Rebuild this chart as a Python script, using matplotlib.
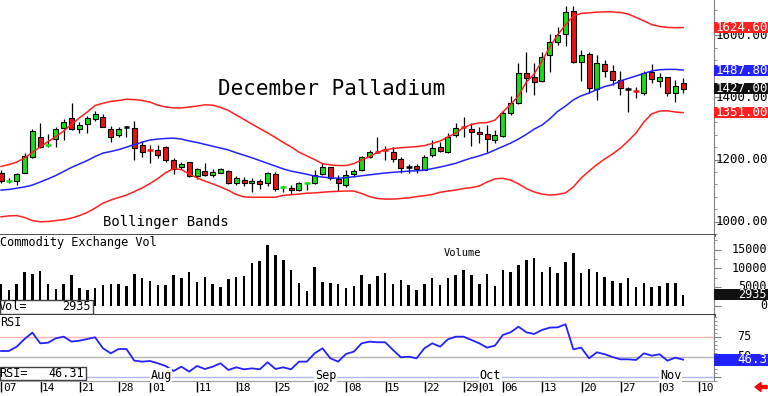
import numpy as np
import pandas as pd
import matplotlib
matplotlib.use('Agg')
import matplotlib.pyplot as plt
import matplotlib.transforms as mtransforms
from matplotlib.patches import Rectangle, FancyArrow
from matplotlib.ticker import MultipleLocator, FixedLocator

# trading days shown (Jul 3 .. Nov 5 2014)
dates = pd.bdate_range('2014-07-03', '2014-11-05').drop(pd.to_datetime(['2014-07-04', '2014-09-01']))

opens = [1158, 1131, 1132, 1158, 1209, 1272, 1246, 1265, 1303, 1333,
         1297, 1313, 1330, 1338, 1298, 1279, 1306, 1301, 1247, 1231,
         1231, 1240, 1199, 1175, 1191, 1147, 1163, 1150, 1158, 1164,
         1126, 1134, 1124, 1132, 1124, 1153, 1112, 1110, 1102, 1125,
         1124, 1154, 1175, 1137, 1118, 1154, 1167, 1207, 1226, 1233,
         1225, 1201, 1176, 1179, 1167, 1215, 1239, 1225, 1279, 1306,
         1299, 1288, 1282, 1263, 1276, 1349, 1381, 1479, 1467, 1453,
         1536, 1579, 1603, 1679, 1515, 1539, 1426, 1506, 1485, 1456,
         1426, 1423, 1413, 1483, 1454, 1465, 1415, 1445]
highs = [1166, 1141, 1158, 1222, 1297, 1319, 1281, 1306, 1330, 1381,
         1322, 1340, 1357, 1347, 1308, 1306, 1308, 1325, 1261, 1247,
         1247, 1244, 1204, 1193, 1193, 1172, 1188, 1169, 1172, 1167,
         1148, 1145, 1140, 1137, 1161, 1160, 1115, 1118, 1129, 1129,
         1167, 1190, 1177, 1150, 1166, 1169, 1212, 1231, 1274, 1244,
         1239, 1209, 1186, 1186, 1215, 1263, 1257, 1284, 1317, 1338,
         1317, 1306, 1311, 1295, 1356, 1405, 1510, 1547, 1510, 1547,
         1603, 1627, 1694, 1694, 1552, 1547, 1536, 1520, 1504, 1486,
         1434, 1432, 1484, 1507, 1477, 1465, 1456, 1461]
lows = [1125, 1125, 1118, 1156, 1204, 1236, 1240, 1240, 1263, 1295,
        1285, 1287, 1325, 1304, 1257, 1274, 1274, 1199, 1209, 1190,
        1204, 1193, 1154, 1169, 1145, 1137, 1147, 1145, 1156, 1121,
        1118, 1115, 1097, 1106, 1115, 1099, 1097, 1088, 1099, 1102,
        1121, 1150, 1134, 1100, 1111, 1145, 1164, 1204, 1220, 1199,
        1193, 1158, 1158, 1158, 1166, 1209, 1225, 1221, 1274, 1274,
        1244, 1252, 1225, 1254, 1274, 1343, 1379, 1418, 1408, 1450,
        1483, 1568, 1565, 1510, 1453, 1413, 1392, 1467, 1440, 1408,
        1354, 1397, 1408, 1445, 1432, 1405, 1386, 1415]
closes = [1132, 1133, 1153, 1212, 1293, 1241, 1248, 1297, 1322, 1297,
          1312, 1333, 1347, 1306, 1272, 1298, 1306, 1236, 1225, 1229,
          1215, 1199, 1170, 1186, 1147, 1169, 1150, 1159, 1169, 1126,
          1140, 1124, 1131, 1122, 1156, 1104, 1114, 1102, 1126, 1127,
          1150, 1175, 1140, 1124, 1150, 1163, 1207, 1225, 1223, 1230,
          1201, 1172, 1176, 1169, 1209, 1236, 1229, 1274, 1301, 1302,
          1288, 1281, 1266, 1279, 1349, 1381, 1479, 1461, 1450, 1531,
          1579, 1600, 1675, 1513, 1536, 1429, 1510, 1485, 1456, 1429,
          1426, 1420, 1477, 1458, 1465, 1413, 1437, 1427]

bb_upper = [1178, 1184, 1192, 1205, 1223, 1241, 1258, 1274, 1292, 1314,
            1334, 1353, 1374, 1381, 1387, 1390, 1394, 1393, 1390, 1385,
            1375, 1369, 1366, 1366, 1369, 1372, 1376, 1375, 1368, 1358,
            1343, 1329, 1314, 1300, 1286, 1271, 1255, 1241, 1224, 1212,
            1200, 1187, 1183, 1181, 1181, 1187, 1199, 1209, 1224, 1231,
            1236, 1238, 1240, 1242, 1245, 1252, 1260, 1273, 1285, 1303,
            1313, 1318, 1319, 1327, 1353, 1377, 1405, 1449, 1475, 1517,
            1562, 1601, 1633, 1662, 1670, 1672, 1674, 1675, 1675, 1673,
            1668, 1657, 1646, 1634, 1628, 1625, 1624, 1624.6]
bb_mid = [1102, 1104, 1108, 1112, 1118, 1128, 1138, 1149, 1162, 1175,
          1186, 1197, 1210, 1221, 1226, 1232, 1240, 1248, 1256, 1263,
          1266, 1268, 1269, 1266, 1260, 1255, 1249, 1243, 1237, 1231,
          1222, 1214, 1206, 1197, 1188, 1179, 1170, 1163, 1158, 1153,
          1147, 1144, 1141, 1140, 1142, 1145, 1148, 1151, 1154, 1157,
          1159, 1161, 1163, 1164, 1166, 1171, 1176, 1182, 1188, 1197,
          1205, 1212, 1220, 1231, 1242, 1253, 1266, 1281, 1298, 1311,
          1331, 1355, 1372, 1392, 1405, 1414, 1425, 1435, 1441, 1453,
          1461, 1469, 1477, 1485, 1489, 1490, 1490, 1487.8]
bb_lower = [1016, 1019, 1020, 1014, 1004, 1000, 1001, 1004, 1007, 1012,
            1020, 1030, 1044, 1060, 1070, 1078, 1086, 1097, 1109, 1123,
            1139, 1158, 1171, 1168, 1154, 1141, 1131, 1122, 1112, 1101,
            1088, 1080, 1079, 1079, 1079, 1079, 1085, 1087, 1089, 1092,
            1093, 1095, 1097, 1098, 1099, 1099, 1091, 1081, 1075, 1073,
            1073, 1075, 1077, 1081, 1084, 1088, 1095, 1099, 1102, 1107,
            1110, 1115, 1128, 1138, 1140, 1134, 1122, 1107, 1096, 1089,
            1086, 1088, 1093, 1112, 1141, 1163, 1184, 1202, 1218, 1237,
            1260, 1286, 1321, 1347, 1356, 1357, 1353, 1351]

volume = [5790, 4190, 5710, 9075, 8460, 9260, 5710, 4380, 5710, 8110,
          4640, 4190, 4800, 5520, 5790, 5790, 5260, 8460, 7310, 6670,
          5520, 5520, 8190, 7470, 9075, 6240, 7580, 5710, 4990, 7050,
          7740, 7930, 11320, 11930, 16200, 13530, 12200, 9610, 5980, 3920,
          10250, 6330, 6060, 5710, 4640, 5340, 8190, 5710, 8010, 8810,
          5790, 6860, 5440, 4190, 5790, 7310, 5520, 7470, 8190, 9530,
          8190, 5790, 8460, 5260, 9530, 9075, 10860, 12200, 12650, 8910,
          10330, 8650, 11740, 13980, 8810, 9800, 8910, 7660, 6670, 5980,
          7470, 5070, 5980, 4910, 5180, 5980, 5980, 2935]

rsi = [57.1, 57.1, 62.5, 72.1, 80.0, 66.7, 67.5, 73.0, 75.0, 68.8,
       70.0, 72.1, 74.2, 60.5, 54.2, 59.6, 59.6, 45.0, 43.8, 44.6,
       41.7, 38.4, 32.1, 37.5, 31.3, 38.4, 34.6, 37.5, 41.7, 33.4,
       36.7, 34.2, 35.4, 34.2, 43.0, 34.6, 36.7, 34.2, 43.8, 43.8,
       54.2, 60.5, 48.0, 43.8, 53.4, 56.3, 66.7, 68.8, 68.0, 68.0,
       58.4, 49.2, 50.0, 48.0, 60.5, 66.7, 62.5, 71.7, 75.0, 75.0,
       70.9, 66.7, 61.3, 63.8, 77.1, 80.5, 87.5, 80.5, 78.4, 83.4,
       86.3, 86.7, 90.5, 59.2, 61.3, 48.0, 55.5, 53.0, 49.6, 46.7,
       46.7, 45.9, 54.2, 51.3, 53.0, 45.0, 48.8, 46.31]

tick_dates = ['2014-07-07', '2014-07-14', '2014-07-21', '2014-07-28', '2014-08-01',
              '2014-08-11', '2014-08-18', '2014-08-25', '2014-09-02', '2014-09-08',
              '2014-09-15', '2014-09-22', '2014-09-29', '2014-10-01', '2014-10-06',
              '2014-10-13', '2014-10-20', '2014-10-27', '2014-11-03', '2014-11-10']
month_dates = ['2014-08-01', '2014-09-02', '2014-10-01', '2014-11-03']
month_names = ['Aug', 'Sep', 'Oct', 'Nov']

W, H = 768, 396
MONO = 'DejaVu Sans Mono'
GREEN = '#14e014'
RED = '#e81414'
LRED = '#ff2020'
BLUE = '#2222ff'


def box(x0, y0, x1, y1):
    return [x0 / W, 1 - y1 / H, (x1 - x0) / W, (y1 - y0) / H]


def day_pos(d):
    d = pd.Timestamp(d)
    if d in dates:
        return dates.get_loc(d)
    return len(dates) - 1 + np.busday_count(dates[-1].date(), d.date())


fig = plt.figure(figsize=(W / 100, H / 100), dpi=100)
ax_p = fig.add_axes(box(0, 0, 714, 235))
ax_v = fig.add_axes(box(0, 235, 714, 315))
ax_r = fig.add_axes(box(0, 315, 714, 381))

x = np.arange(len(dates))
o = np.array(opens, float)
hi = np.array(highs, float)
lo = np.array(lows, float)
c = np.array(closes, float)

for ax in (ax_p, ax_v, ax_r):
    ax.set_xlim(-0.13, 90.94)
    ax.set_facecolor('white')
    ax.spines['top'].set_visible(False)
    ax.spines['left'].set_visible(False)
    ax.spines['right'].set_color('#808080')
    ax.yaxis.tick_right()
    ax.tick_params(axis='y', which='both', direction='out', colors='#808080',
                   labelright=False, labelleft=False, left=False)
    ax.tick_params(axis='y', which='major', length=5)
    ax.tick_params(axis='y', which='minor', length=2.5)
    ax.set_xticks([])

# ---- price panel ----
ax_p.set_ylim(957.6, 1713.1)
ax_p.spines['bottom'].set_color('#404040')
ax_p.spines['bottom'].set_linewidth(2)
ax_p.yaxis.set_major_locator(FixedLocator([1000, 1200, 1400, 1600]))
ax_p.yaxis.set_minor_locator(MultipleLocator(40))

ax_p.vlines(x, lo, hi, color='black', lw=0.9, zorder=2)
diff = c - o
body = np.abs(diff) >= 5
cols = np.where(diff > 0, GREEN, RED)
ax_p.bar(x[body], np.abs(diff[body]), bottom=np.minimum(o, c)[body], width=0.64,
         color=cols[body], edgecolor='black', linewidth=0.8, zorder=3)
doji = ~body
doji_cols = np.where(diff[doji] == 0, 'black', cols[doji])
ax_p.hlines((o[doji] + c[doji]) / 2, x[doji] - 0.36, x[doji] + 0.36,
            colors=doji_cols, lw=1.8, zorder=3)

ax_p.plot(x, bb_upper, color=LRED, lw=1.1, zorder=4)
ax_p.plot(x, bb_lower, color=LRED, lw=1.1, zorder=4)
ax_p.plot(x, bb_mid, color=BLUE, lw=1.1, zorder=4)

ax_p.text(218 / 714, 1 - 89 / 235, 'December Palladium', transform=ax_p.transAxes,
          ha='left', va='center', fontsize=15, family=MONO)
ax_p.text(103 / 714, 1 - 222 / 235, 'Bollinger Bands', transform=ax_p.transAxes,
          ha='left', va='center', fontsize=10, family=MONO)

blend_p = mtransforms.blended_transform_factory(ax_p.transAxes, ax_p.transData)
for v in [1000, 1200, 1400, 1600]:
    ax_p.text(716 / 714, v, f'{v:.2f}', transform=blend_p, ha='left', va='center',
              fontsize=9, family=MONO, clip_on=False)

px_p = (1713.1 - 957.6) / 235
for val, col in [(bb_upper[-1], LRED), (bb_mid[-1], BLUE), (closes[-1], '#111111'),
                 (bb_lower[-1], LRED)]:
    ax_p.add_patch(Rectangle((1.0, val - 5.5 * px_p), 54 / 714, 11 * px_p,
                             transform=blend_p, facecolor=col, edgecolor='none',
                             clip_on=False, zorder=6))
    ax_p.text(716 / 714, val, f'{val:.2f}', transform=blend_p, ha='left', va='center',
              fontsize=9, family=MONO, color='white', clip_on=False, zorder=7)

# ---- volume panel ----
ax_v.set_ylim(-2480, 18870)
ax_v.spines['bottom'].set_color('#202020')
ax_v.spines['bottom'].set_linewidth(2)
ax_v.yaxis.set_major_locator(FixedLocator([0, 5000, 10000, 15000]))
ax_v.yaxis.set_minor_locator(MultipleLocator(2500))
ax_v.bar(x, volume, width=0.32, color='black', zorder=2)
ax_v.text(0.0, 1 - 7.7 / 80, 'Commodity Exchange Vol', transform=ax_v.transAxes,
          ha='left', va='center', fontsize=8.6, family=MONO)
ax_v.text(444 / 714, 1 - 18 / 80, 'Volume', transform=ax_v.transAxes,
          ha='left', va='center', fontsize=7.5, family=MONO)
blend_v = mtransforms.blended_transform_factory(ax_v.transAxes, ax_v.transData)
for v in [0, 5000, 10000, 15000]:
    ax_v.text(767 / 714, v, str(v), transform=blend_v, ha='right', va='center',
              fontsize=8.5, family=MONO, clip_on=False)
px_v = (18870 + 2480) / 80
ax_v.add_patch(Rectangle((1.0, volume[-1] - 5.5 * px_v), 54 / 714, 11 * px_v,
                         transform=blend_v, facecolor='#111111', edgecolor='none',
                         clip_on=False, zorder=6))
ax_v.text(767 / 714, volume[-1], str(volume[-1]), transform=blend_v, ha='right',
          va='center', fontsize=8.5, family=MONO, color='white', clip_on=False, zorder=7)
ax_v.add_patch(Rectangle((0, 1 / 80), 93 / 714, 14 / 80, transform=ax_v.transAxes,
                         facecolor='white', edgecolor='#404040', lw=1, zorder=5))
ax_v.text(-1 / 714, 8 / 80, 'Vol=', transform=ax_v.transAxes, ha='left', va='center',
          fontsize=8.5, family=MONO, zorder=6)
ax_v.text(91 / 714, 8 / 80, str(volume[-1]), transform=ax_v.transAxes, ha='right',
          va='center', fontsize=8.5, family=MONO, zorder=6)

# ---- RSI panel ----
ax_r.set_ylim(19.6, 102.1)
ax_r.spines['bottom'].set_color('#a0a0a0')
ax_r.spines['bottom'].set_linewidth(0.8)
ax_r.yaxis.set_major_locator(FixedLocator([25, 50, 75]))
ax_r.yaxis.set_minor_locator(MultipleLocator(5))
ax_r.axhline(75, color='#ffb4b4', lw=1, zorder=1)
ax_r.axhline(50, color='#b4b4b4', lw=1, zorder=1)
ax_r.axhline(25, color='#b4b4ff', lw=1, zorder=1)
ax_r.plot(x, rsi, color=BLUE, lw=1.3, zorder=3)
ax_r.text(0.0, 1 - 8 / 66, 'RSI', transform=ax_r.transAxes, ha='left', va='center',
          fontsize=8.5, family=MONO)
for d, name in zip(month_dates, month_names):
    ax_r.text(day_pos(d) - 0.95, 26.5, name, ha='left', va='center', fontsize=8.5,
              family=MONO, zorder=4,
              bbox=dict(boxstyle='square,pad=0.05', fc='white', ec='none'))
blend_r = mtransforms.blended_transform_factory(ax_r.transAxes, ax_r.transData)
for v in [50, 75]:
    ax_r.text(751 / 714, v, str(v), transform=blend_r, ha='right', va='center',
              fontsize=8.5, family=MONO, clip_on=False)
px_r = (102.1 - 19.6) / 66
ax_r.add_patch(Rectangle((1.0, rsi[-1] - 6 * px_r), 54 / 714, 12 * px_r,
                         transform=blend_r, facecolor=BLUE, edgecolor='none',
                         clip_on=False, zorder=6))
ax_r.text(767 / 714, rsi[-1], f'{rsi[-1]:.1f}', transform=blend_r, ha='right',
          va='center', fontsize=9, family=MONO, color='white', clip_on=False, zorder=7)
ax_r.add_patch(Rectangle((0, 1 / 66), 86 / 714, 13.3 / 66, transform=ax_r.transAxes,
                         facecolor='white', edgecolor='#404040', lw=1, zorder=5))
ax_r.text(-1 / 714, 7.5 / 66, 'RSI=', transform=ax_r.transAxes, ha='left', va='center',
          fontsize=8.5, family=MONO, zorder=6)
ax_r.text(84 / 714, 7.5 / 66, f'{rsi[-1]:.2f}', transform=ax_r.transAxes, ha='right',
          va='center', fontsize=8.5, family=MONO, zorder=6)

# date axis
tick_pos = [day_pos(d) - 0.95 for d in tick_dates]
ax_r.set_xticks(tick_pos)
ax_r.tick_params(axis='x', direction='out', length=8, width=1, color='black',
                 labelbottom=False)
blend_x = mtransforms.blended_transform_factory(ax_r.transData, ax_r.transAxes)
for p, d in zip(tick_pos, tick_dates):
    ax_r.text(p + 0.2, -0.03, d[-2:], transform=blend_x, ha='left', va='top',
              fontsize=8, family=MONO, clip_on=False)

fig.add_artist(FancyArrow(767 / W, 1 - 387 / H, -12 / W, 0, width=3 / H,
                          head_width=9 / H, head_length=6 / W,
                          length_includes_head=True, color='red',
                          transform=fig.transFigure))

fig.savefig('out.png', dpi=100)
